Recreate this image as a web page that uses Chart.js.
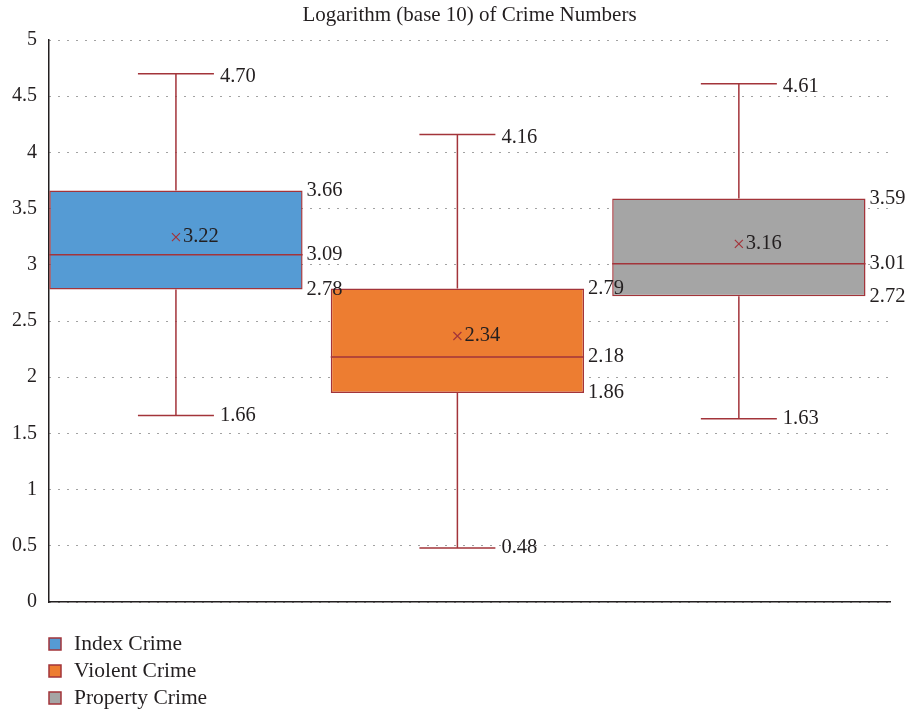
<!DOCTYPE html>
<html>
<head>
<meta charset="utf-8">
<script src="https://cdn.jsdelivr.net/npm/chart.js@4.4.0/dist/chart.umd.min.js"></script>
<style>
  html, body { margin: 0; padding: 0; background: #fff; }
</style>
</head>
<body>
<canvas id="boxChart" width="906" height="710"></canvas>
<script>
// Dados do box plot (log10 dos números de crimes)
const categories = ['Index Crime', 'Violent Crime', 'Property Crime'];
const minValues = [1.66, 0.48, 1.63];
const q1Values = [2.78, 1.86, 2.72];
const medianValues = [3.09, 2.18, 3.01];
const q3Values = [3.66, 2.79, 3.59];
const maxValues = [4.70, 4.16, 4.61];
const meanValues = [3.22, 2.34, 3.16];
const yTicks = [0, 0.5, 1, 1.5, 2, 2.5, 3, 3.5, 4, 4.5, 5];
const chartTitle = 'Logarithm (base 10) of Crime Numbers';

const boxColors = ['#559BD4', '#ED7D31', '#A5A5A5'];
const lineRed = '#A3343A';
const ink = '#231F20';
const serif = '"Liberation Serif", "DejaVu Serif", serif';

// Bigodes, mediana, média e rótulos
const boxPlotExtras = {
    id: 'boxPlotExtras',
    afterDatasetsDraw(chart) {
        const { ctx, scales: { y } } = chart;
        const bars = chart.getDatasetMeta(0).data;
        ctx.save();
        ctx.lineWidth = 1.5;
        ctx.strokeStyle = lineRed;
        bars.forEach((bar, i) => {
            const cx = bar.x;
            const half = bar.width / 2;
            const cap = bar.width * 0.15;
            const yMin = y.getPixelForValue(minValues[i]);
            const yQ1 = y.getPixelForValue(q1Values[i]);
            const yMed = y.getPixelForValue(medianValues[i]);
            const yQ3 = y.getPixelForValue(q3Values[i]);
            const yMax = y.getPixelForValue(maxValues[i]);
            const yMean = y.getPixelForValue(meanValues[i]) - 3;

            ctx.beginPath();
            ctx.moveTo(cx, yQ3); ctx.lineTo(cx, yMax);
            ctx.moveTo(cx - cap, yMax); ctx.lineTo(cx + cap, yMax);
            ctx.moveTo(cx, yQ1); ctx.lineTo(cx, yMin);
            ctx.moveTo(cx - cap, yMin); ctx.lineTo(cx + cap, yMin);
            ctx.moveTo(cx - half, yMed); ctx.lineTo(cx + half, yMed);
            ctx.stroke();

            // marcador da média
            ctx.beginPath();
            ctx.lineWidth = 1.2;
            ctx.moveTo(cx - 4, yMean - 4); ctx.lineTo(cx + 4, yMean + 4);
            ctx.moveTo(cx - 4, yMean + 4); ctx.lineTo(cx + 4, yMean - 4);
            ctx.stroke();
            ctx.lineWidth = 1.5;

            ctx.fillStyle = ink;
            ctx.font = '20.5px ' + serif;
            ctx.textBaseline = 'middle';
            ctx.textAlign = 'left';
            ctx.fillText(meanValues[i].toFixed(2), cx + 7, yMean);
            ctx.fillText(maxValues[i].toFixed(2), cx + cap + 6, yMax + 3);
            ctx.fillText(minValues[i].toFixed(2), cx + cap + 6, yMin);
            ctx.fillText(q3Values[i].toFixed(2), cx + half + 4, yQ3);
            ctx.fillText(medianValues[i].toFixed(2), cx + half + 4, yMed);
            ctx.fillText(q1Values[i].toFixed(2), cx + half + 4, yQ1);
        });
        ctx.restore();
    },
    afterDraw(chart) {
        const { ctx, chartArea } = chart;
        ctx.save();
        // título
        ctx.fillStyle = ink;
        ctx.font = '21px ' + serif;
        ctx.textAlign = 'center';
        ctx.textBaseline = 'middle';
        ctx.fillText(chartTitle, (chartArea.left + chartArea.right) / 2, 15);

        // legenda
        ctx.textAlign = 'left';
        ctx.font = '21.5px ' + serif;
        categories.forEach((name, i) => {
            const cy = 644 + i * 27;
            ctx.fillStyle = boxColors[i];
            ctx.fillRect(chartArea.left, cy - 6, 12, 12);
            ctx.strokeStyle = lineRed;
            ctx.lineWidth = 1.5;
            ctx.strokeRect(chartArea.left, cy - 6, 12, 12);
            ctx.fillStyle = ink;
            ctx.fillText(name, chartArea.left + 25, cy);
        });
        ctx.restore();
    }
};

const ctx = document.getElementById('boxChart').getContext('2d');

const boxChart = new Chart(ctx, {
    type: 'bar',
    data: {
        labels: categories,
        datasets: [{
            label: 'Box',
            data: categories.map((c, i) => ({ x: i, y: [q1Values[i], q3Values[i]] })),
            backgroundColor: boxColors,
            borderColor: lineRed,
            borderWidth: 1.5,
            borderSkipped: false,
            barPercentage: 0.9,
            categoryPercentage: 1
        }]
    },
    options: {
        responsive: false,
        animation: false,
        layout: { padding: { top: 40, left: 5, right: 16, bottom: 108 } },
        plugins: {
            legend: { display: false },
            title: { display: false },
            tooltip: { enabled: false }
        },
        scales: {
            x: {
                type: 'linear',
                offset: false,
                min: -0.451,
                max: 2.537,
                afterBuildTicks(s) { s.ticks = categories.map((c, i) => ({ value: i })); },
                grid: { display: false },
                ticks: { display: false },
                border: { display: true, color: ink, width: 1.5 },
                afterFit(s) { s.height = 0; }
            },
            y: {
                min: 0,
                max: 5,
                afterBuildTicks(s) { s.ticks = yTicks.map(v => ({ value: v })); },
                ticks: {
                    color: ink,
                    padding: 12,
                    font: { family: serif, size: 20 },
                    callback: v => String(v)
                },
                grid: { color: '#444', drawTicks: false, lineWidth: 1 },
                border: { display: true, color: ink, width: 1.5, dash: [1, 8] },
                afterFit(s) { s.width = 44; }
            }
        }
    },
    plugins: [boxPlotExtras]
});
</script>
</body>
</html>
